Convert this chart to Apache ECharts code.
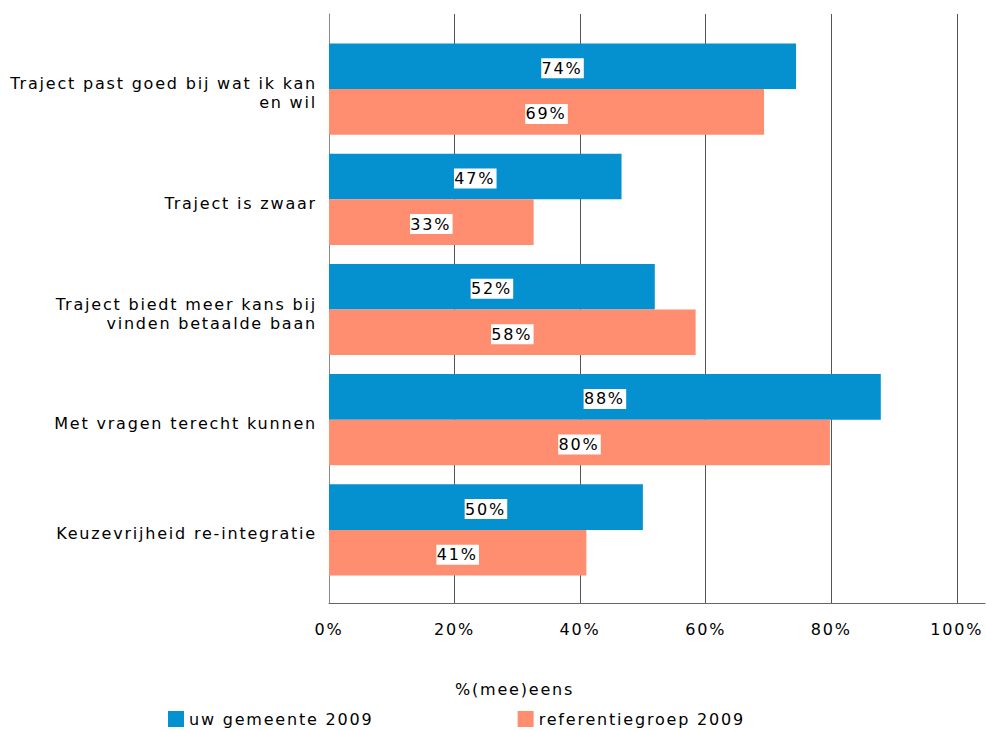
<!DOCTYPE html>
<html>
<head>
<meta charset="utf-8">
<script src="https://cdn.jsdelivr.net/npm/echarts@6/dist/echarts.min.js"></script>
<style>
  html, body { margin: 0; padding: 0; background: #fff; }
  #chart { width: 986px; height: 731px; }
  /* the original uses a wide, letter-spaced Verdana look */
  #chart text { letter-spacing: 1.8px; }
</style>
</head>
<body>
<div id="chart"></div>
<script>
  // categorieen (van boven naar beneden)
  const categories = [
    'Traject past goed bij wat ik kan\nen wil',
    'Traject is zwaar',
    'Traject biedt meer kans bij\nvinden betaalde baan',
    'Met vragen terecht kunnen',
    'Keuzevrijheid re-integratie'
  ]
  const seriesNames = ['uw gemeente 2009', 'referentiegroep 2009']
  const gemeente = [74.4, 46.6, 51.9, 87.9, 50.0]
  const referentie = [69.3, 32.6, 58.4, 79.8, 41.0]
  const xTicks = [0, 20, 40, 60, 80, 100]
  const axisTitle = '%(mee)eens'

  const font = 'DejaVu Sans, Verdana, sans-serif'
  const xMax = 104.5

  const chart = echarts.init(document.getElementById('chart'), null, {renderer: 'svg'})

  const barLabel = {
    show: true,
    position: 'inside',
    offset: [0, 2],
    formatter: p => Math.round(p.value) + '%',
    color: '#000',
    fontFamily: font,
    fontSize: 16,
    backgroundColor: '#fff',
    padding: [3, 4, 1, 3]
  }

  chart.setOption({
    animation: false,
    title: {
      text: axisTitle,
      left: 450,
      top: 676,
      textStyle: {fontFamily: font, fontSize: 16, fontWeight: 'normal', color: '#000'}
    },
    legend: {
      data: seriesNames,
      left: 163,
      top: 706,
      itemWidth: 16,
      itemHeight: 16,
      itemGap: 173,
      icon: 'rect',
      textStyle: {fontFamily: font, fontSize: 16, color: '#000'}
    },
    grid: [
      // frame: x axis, grid lines
      {left: 329, right: 1, top: 14, bottom: 128},
      // bars
      {left: 329, right: 1, top: 34, bottom: 146},
      // category labels (sit a little lower than the bars)
      {left: 329, right: 1, top: 38, bottom: 142}
    ],
    xAxis: [
      {
        gridIndex: 0,
        type: 'value',
        min: 0,
        max: xMax,
        interval: 20,
        axisLine: {show: true, lineStyle: {color: '#666', width: 1}},
        axisTick: {show: false},
        splitLine: {show: true, showMaxLine: false, lineStyle: {color: '#555', width: 1}},
        axisLabel: {
          showMaxLabel: false,
          margin: 18,
          fontFamily: font,
          fontSize: 16,
          color: '#000',
          formatter: v => xTicks.indexOf(v) >= 0 ? v + '%' : ''
        }
      },
      {gridIndex: 1, type: 'value', min: 0, max: xMax, show: false},
      {gridIndex: 2, type: 'value', min: 0, max: xMax, show: false}
    ],
    yAxis: [
      {
        gridIndex: 0,
        type: 'category',
        data: [''],
        axisLine: {show: true, lineStyle: {color: '#888', width: 1}},
        axisTick: {show: false},
        axisLabel: {show: false}
      },
      {
        gridIndex: 1,
        type: 'category',
        inverse: true,
        data: categories,
        axisLine: {show: false},
        axisTick: {show: false},
        axisLabel: {show: false}
      },
      {
        gridIndex: 2,
        type: 'category',
        inverse: true,
        data: categories,
        axisLine: {show: false},
        axisTick: {show: false},
        splitLine: {show: false},
        axisLabel: {
          margin: 12,
          fontFamily: font,
          fontSize: 16,
          lineHeight: 19,
          color: '#000',
          align: 'right'
        }
      }
    ],
    series: [
      {
        name: seriesNames[0],
        type: 'bar',
        xAxisIndex: 1,
        yAxisIndex: 1,
        data: gemeente,
        barWidth: 45.6,
        barGap: '0%',
        itemStyle: {color: '#0591cf'},
        label: barLabel
      },
      {
        name: seriesNames[1],
        type: 'bar',
        xAxisIndex: 1,
        yAxisIndex: 1,
        data: referentie,
        barWidth: 45.6,
        barGap: '0%',
        itemStyle: {color: '#ff8d70'},
        label: barLabel
      }
    ]
  })
</script>
</body>
</html>
